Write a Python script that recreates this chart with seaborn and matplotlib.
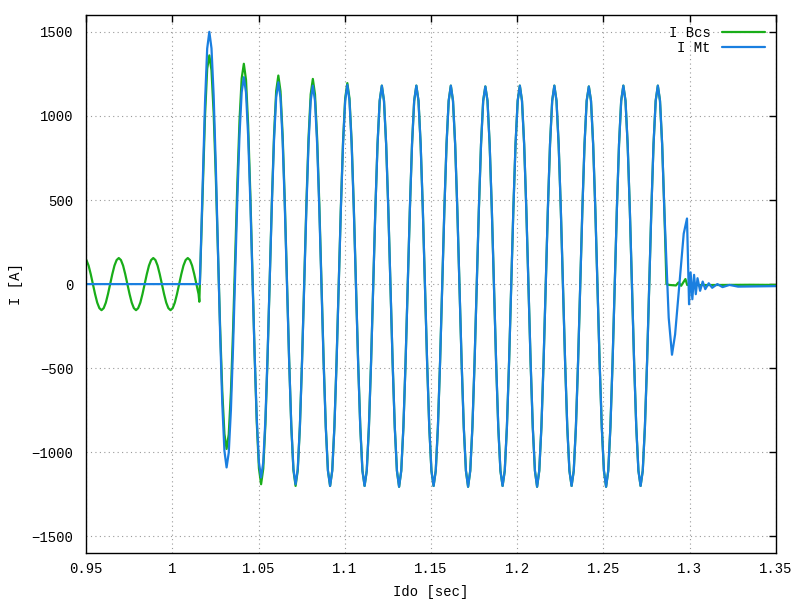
import numpy as np
import pandas as pd
import seaborn as sns
import matplotlib.pyplot as plt
from matplotlib.ticker import MultipleLocator, FuncFormatter

dt = 0.00125

# I Bcs before the fault (steady 50 Hz load current)
bcs_pre_t0 = 0.949
bcs_pre = [150, 143, 110, 59, 0, -59, -110, -143,
           -155, -143, -110, -59, 0, 59, 110, 143,
           155, 143, 110, 59, 0, -59, -110, -143,
           -155, -143, -110, -59, 0, 59, 110, 143,
           155, 143, 110, 59, 0, -59, -110, -143,
           -155, -143, -110, -59, 0, 59, 110, 143,
           155, 143, 110, 59, 0, -59]
bcs_switch_t = [1.0157]
bcs_switch = [-105]

# I Mt before the fault is zero
mt_pre_t = [0.949, 1.0160]
mt_pre = [0, 0]

# fault current, both series on the same sample grid, one half cycle per line
fault_t0 = 1.019
bcs_fault = [1000, 1280, 1360,
             1271, 1017, 638, 190, -258, -637, -891, -980,
             -893, -645, -274, 165, 604, 975, 1223, 1310,
             1215, 944, 539, 60, -419, -824, -1095, -1190,
             -1098, -834, -440, 25, 490, 884, 1148, 1240,
             1147, 883, 487, 20, -447, -843, -1107, -1200,
             -1108, -846, -453, 10, 473, 866, 1128, 1220,
             1128, 866, 473, 10, -453, -846, -1108, -1200,
             -1108, -848, -460, -2, 456, 844, 1104, 1195,
             1104, 844, 456, -2, -460, -848, -1108, -1200,
             -1110, -851, -466, -10, 446, 831, 1090, 1180,
             1090, 831, 446, -10, -466, -851, -1110, -1205,
             -1110, -851, -466, -10, 446, 831, 1090, 1180,
             1090, 831, 446, -10, -466, -851, -1110, -1200,
             -1110, -851, -466, -10, 446, 831, 1090, 1180,
             1090, 831, 446, -10, -466, -851, -1110, -1205,
             -1110, -851, -466, -10, 446, 831, 1090, 1175,
             1090, 831, 446, -10, -466, -851, -1110, -1200,
             -1110, -851, -466, -10, 446, 831, 1090, 1180,
             1090, 831, 446, -10, -466, -851, -1110, -1205,
             -1110, -851, -466, -10, 446, 831, 1090, 1180,
             1090, 831, 446, -10, -466, -851, -1110, -1200,
             -1110, -851, -466, -10, 446, 831, 1090, 1175,
             1090, 831, 446, -10, -466, -851, -1110, -1205,
             -1110, -851, -466, -10, 446, 831, 1090, 1180,
             1090, 831, 446, -10, -466, -851, -1110, -1200,
             -1110, -851, -466, -10, 446, 831, 1090, 1180,
             1090, 831, 446, 0]
mt_fault = [1080, 1400, 1500,
            1402, 1121, 701, 205, -291, -711, -992, -1090,
            -1002, -750, -374, 70, 514, 890, 1142, 1230,
            1140, 881, 496, 40, -416, -801, -1060, -1150,
            -1061, -806, -425, 25, 475, 856, 1111, 1200,
            1109, 850, 463, 5, -453, -840, -1099, -1190,
            -1100, -843, -459, -5, 449, 833, 1090, 1180,
            1090, 831, 446, -10, -466, -851, -1110, -1200,
            -1110, -851, -466, -10, 446, 831, 1090, 1185,
            1090, 831, 446, -10, -466, -851, -1110, -1200,
            -1110, -851, -466, -10, 446, 831, 1090, 1180,
            1090, 831, 446, -10, -466, -851, -1110, -1205,
            -1110, -851, -466, -10, 446, 831, 1090, 1180,
            1090, 831, 446, -10, -466, -851, -1110, -1200,
            -1110, -851, -466, -10, 446, 831, 1090, 1180,
            1090, 831, 446, -10, -466, -851, -1110, -1205,
            -1110, -851, -466, -10, 446, 831, 1090, 1175,
            1090, 831, 446, -10, -466, -851, -1110, -1200,
            -1110, -851, -466, -10, 446, 831, 1090, 1180,
            1090, 831, 446, -10, -466, -851, -1110, -1205,
            -1110, -851, -466, -10, 446, 831, 1090, 1180,
            1090, 831, 446, -10, -466, -851, -1110, -1200,
            -1110, -851, -466, -10, 446, 831, 1090, 1175,
            1090, 831, 446, -10, -466, -851, -1110, -1205,
            -1110, -851, -466, -10, 446, 831, 1090, 1180,
            1090, 831, 446, -10, -466, -851, -1110, -1200,
            -1110, -851, -466, -10, 446, 831, 1090, 1180,
            1090, 831]

# after the breaker opens
bcs_tail_t = [1.2880, 1.2920, 1.2935, 1.2950, 1.2975, 1.2985, 1.3050, 1.3200, 1.3350, 1.3500]
bcs_tail = [-5, -8, 10, -10, 30, -5, -6, -5, -4, -5]
mt_tail_t = [1.2853, 1.2865, 1.2878, 1.2897, 1.2915, 1.2940, 1.2965, 1.2984, 1.2996,
             1.3005, 1.3015, 1.3025, 1.3035, 1.3045, 1.3060, 1.3075, 1.3090,
             1.3110, 1.3130, 1.3160, 1.3190, 1.3230, 1.3280, 1.3500]
mt_tail = [430, 120, -200, -420, -300, 0, 300, 390, -120,
           70, -90, 55, -60, 35, -40, 15, -30,
           5, -22, 0, -18, -5, -15, -12]

bcs_t = np.concatenate([bcs_pre_t0 + dt * np.arange(len(bcs_pre)), bcs_switch_t,
                        fault_t0 + dt * np.arange(len(bcs_fault)), bcs_tail_t])
bcs_i = np.concatenate([bcs_pre, bcs_switch, bcs_fault, bcs_tail])
mt_t = np.concatenate([mt_pre_t, fault_t0 + dt * np.arange(len(mt_fault)), mt_tail_t])
mt_i = np.concatenate([mt_pre, mt_fault, mt_tail])

df = pd.concat([
    pd.DataFrame({"t": bcs_t, "I": bcs_i, "series": "I Bcs"}),
    pd.DataFrame({"t": mt_t, "I": mt_i, "series": "I Mt"}),
])

sns.set_style("white")
plt.rcParams["font.family"] = ["Liberation Mono", "DejaVu Sans Mono"]
plt.rcParams["text.color"] = "black"
plt.rcParams["axes.labelcolor"] = "black"

fig, ax = plt.subplots(figsize=(8, 6), dpi=100)
fig.subplots_adjust(left=0.1075, right=0.97, bottom=0.078, top=0.975)

sns.lineplot(data=df, x="t", y="I", hue="series", hue_order=["I Bcs", "I Mt"],
             palette={"I Bcs": "#19ad19", "I Mt": "#1a7fe0"},
             estimator=None, sort=False, lw=1.6, ax=ax)

ax.set_xlim(0.95, 1.35)
ax.set_ylim(-1600, 1600)
ax.xaxis.set_major_locator(MultipleLocator(0.05))
ax.yaxis.set_major_locator(MultipleLocator(500))
ax.xaxis.set_major_formatter(FuncFormatter(lambda v, p: f"{v:g}"))
ax.grid(True, linestyle=(0, (1, 3)), color="#9a9a9a", lw=0.8)
ax.tick_params(direction="in", top=True, right=True, length=5, width=1,
               labelsize=10, colors="black")
ax.tick_params(axis="x", pad=6)
ax.tick_params(axis="y", pad=9)
for s in ax.spines.values():
    s.set_color("black")
    s.set_linewidth(1)
ax.set_xlabel("Ido [sec]", fontsize=10, labelpad=7, color="black")
ax.set_ylabel("I [A]", fontsize=10, labelpad=6, color="black")

sns.move_legend(ax, "upper right", title=None, frameon=False, markerfirst=False,
                fontsize=10, handlelength=3.1, labelspacing=0.05, borderaxespad=0.4)

plt.savefig("out.png", dpi=100)
